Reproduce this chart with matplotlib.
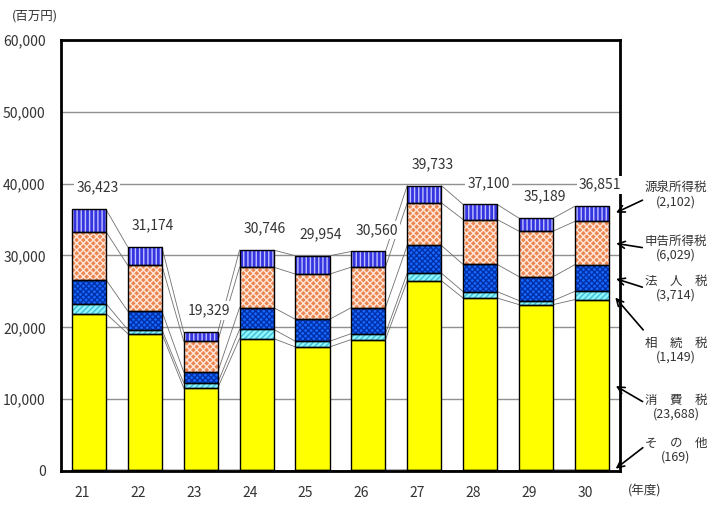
import matplotlib.pyplot as plt
import numpy as np
from matplotlib.transforms import ScaledTranslation

plt.rcParams['font.family'] = ['Noto Sans CJK JP', 'DejaVu Sans']
plt.rcParams['hatch.linewidth'] = 1.0

# values in 百万円, stacked from the bottom
years = ['21', '22', '23', '24', '25', '26', '27', '28', '29', '30']
totals = [36423, 31174, 19329, 30746, 29954, 30560, 39733, 37100, 35189, 36851]
sonota = [160, 150, 140, 150, 150, 150, 160, 160, 160, 169]
shohi = [21743, 18974, 11429, 18276, 17114, 18150, 26323, 23910, 22999, 23688]
sozoku = [1390, 550, 700, 1290, 790, 830, 1060, 890, 560, 1149]
hojin = [3330, 2590, 1530, 3020, 3060, 3610, 3850, 3790, 3330, 3714]
shinkoku = [6700, 6350, 4260, 5640, 6290, 5640, 5930, 6250, 6330, 6029]
gensen = [3100, 2560, 1270, 2370, 2550, 2180, 2410, 2100, 1810, 2102]

names = ['そ　の　他', '消　費　税', '相　続　税', '法　人　税', '申告所得税', '源泉所得税']
layers = [sonota, shohi, sozoku, hojin, shinkoku, gensen]
# (face, hatch, hatch colour)
styles = [
    ('#404040', None, '#404040'),
    ('#ffff00', None, '#ffff00'),
    ('#8ff5ff', '//////', '#3fc0d8'),
    ('#1868ff', 'xxxxxx', '#0030a8'),
    ('#ec8650', 'xxxxx', '#ffe6d8'),
    ('#3434e0', '||||', '#c0c0ff'),
]

fig = plt.figure(figsize=(7.15, 5.09), dpi=100)
ax = fig.add_axes([0.0853, 0.0747, 0.7817, 0.8468])

x = np.arange(len(years))
w = 0.61
bottom = np.zeros(len(years))
tops = []
for vals, (face, hatch, hc) in zip(layers, styles):
    vals = np.array(vals, dtype=float)
    ax.bar(x, vals, w, bottom=bottom, color=face, hatch=hatch,
           edgecolor=hc, linewidth=0, zorder=2)
    ax.bar(x, vals, w, bottom=bottom, fill=False, edgecolor='black',
           linewidth=1.0, zorder=3)
    bottom = bottom + vals
    tops.append(bottom.copy())

# series lines between neighbouring bars
for cum in tops:
    for i in range(len(years) - 1):
        ax.plot([x[i] + w / 2, x[i + 1] - w / 2], [cum[i], cum[i + 1]],
                color='#707070', linewidth=0.6, zorder=1.5)

# totals above the bars
lbl_shift = ScaledTranslation(6 / 72, 0, fig.dpi_scale_trans)
for i, t in enumerate(totals):
    ax.text(x[i], t + 3000, f'{t:,}', ha='center', va='center', fontsize=10,
            color='#333333', zorder=4, transform=ax.transData + lbl_shift,
            bbox=dict(facecolor='white', edgecolor='none', pad=1.5))

ax.set_xlim(-0.5, len(years) - 0.5)
ax.set_ylim(0, 60000)
ax.set_yticks(np.arange(0, 60001, 10000))
ax.set_yticklabels([f'{v:,}' for v in range(0, 60001, 10000)])
ax.set_xticks(x)
ax.set_xticklabels(years)
ax.tick_params(axis='both', length=0, labelsize=10, colors='#333333')
ax.tick_params(axis='x', pad=11)
ax.tick_params(axis='y', pad=11)
for lab in ax.get_xticklabels():
    lab.set_transform(lab.get_transform() + ScaledTranslation(-5 / 72, 0, fig.dpi_scale_trans))
ax.yaxis.grid(True, color='#909090', linewidth=1.0, zorder=0)
ax.set_axisbelow(True)
for s in ax.spines.values():
    s.set_linewidth(2.0)
    s.set_color('black')

# legend-like labels on the right with arrows to the last bar
last = len(years) - 1
text_y = [450, 407, 350.5, 288, 248, 195.5]
tail_y = [446, 403, 332, 288, 248, 199]
for k, (nm, vals) in enumerate(zip(names, layers)):
    mid = tops[k][last] - vals[last] / 2
    fig.text(676 / 715, 1 - text_y[k] / 509, f'{nm}\n({vals[last]:,})',
             ha='center', va='center', fontsize=9, color='#333333',
             linespacing=1.1)
    ax.annotate('', xy=(last + w / 2 + 0.08, mid),
                xytext=(645 / 715, 1 - tail_y[k] / 509),
                textcoords='figure fraction',
                arrowprops=dict(arrowstyle='->,head_length=0.5,head_width=0.25',
                                color='black', linewidth=1.2),
                annotation_clip=False)

fig.text(35 / 715, 1 - 16 / 509, '(百万円)', ha='center', va='center',
         fontsize=9, color='#333333')
fig.text(645 / 715, 1 - 491 / 509, '(年度)', ha='center', va='center',
         fontsize=9, color='#333333')

fig.savefig('out.png', dpi=100)
